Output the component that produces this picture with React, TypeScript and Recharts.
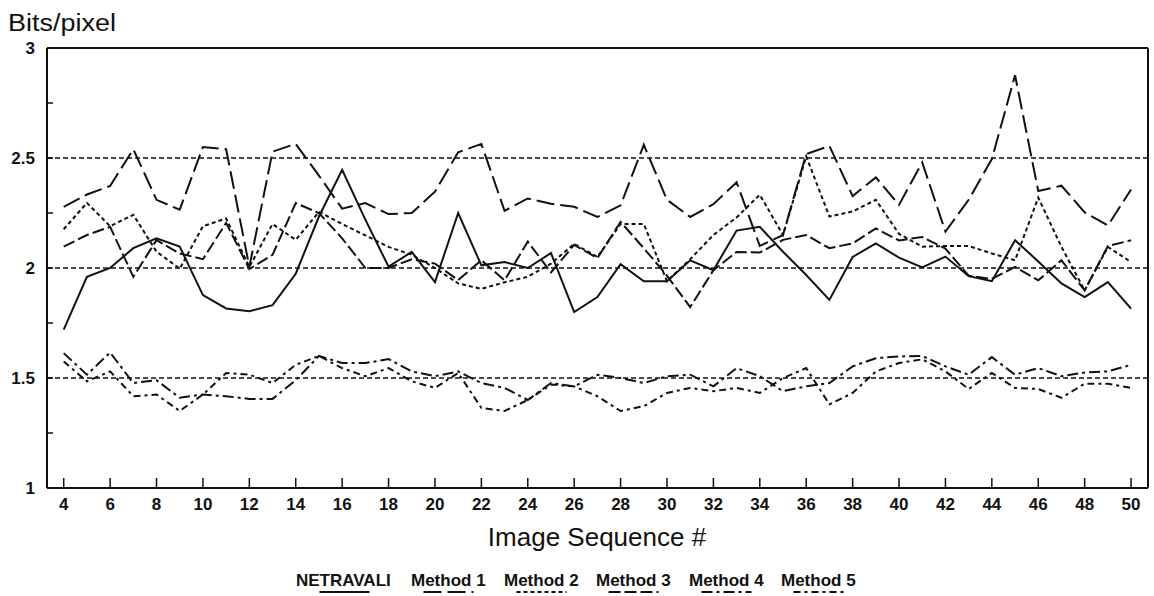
import { LineChart, Line, XAxis, YAxis, ReferenceLine } from "recharts";

// image sequence numbers
const SEQ = [
  4, 5, 6, 7, 8, 9, 10, 11, 12, 13, 14, 15, 16, 17, 18, 19, 20, 21, 22, 23, 24, 25, 26, 27,
  28, 29, 30, 31, 32, 33, 34, 35, 36, 37, 38, 39, 40, 41, 42, 43, 44, 45, 46, 47, 48, 49, 50,
];

// bits/pixel per method
const NETRAVALI = [
  1.72, 1.96, 2.0, 2.09, 2.135, 2.097, 1.877, 1.816, 1.804, 1.831, 1.974, 2.234, 2.446, 2.22,
  2.006, 2.073, 1.936, 2.25, 2.012, 2.027, 2.0, 2.068, 1.8, 1.868, 2.017, 1.94, 1.94, 2.035,
  1.99, 2.17, 2.187, 2.074, 1.968, 1.855, 2.05, 2.112, 2.047, 2.003, 2.052, 1.963, 1.94, 2.126,
  2.03, 1.93, 1.868, 1.936, 1.815,
];
const METHOD_1 = [
  2.278, 2.334, 2.373, 2.54, 2.31, 2.265, 2.55, 2.54, 2.005, 2.529, 2.564, 2.42, 2.27, 2.295,
  2.245, 2.25, 2.347, 2.526, 2.564, 2.26, 2.316, 2.292, 2.278, 2.232, 2.285, 2.56, 2.31, 2.232,
  2.29, 2.39, 2.1, 2.15, 2.518, 2.555, 2.327, 2.412, 2.287, 2.48, 2.165, 2.31, 2.495, 2.876,
  2.35, 2.374, 2.253, 2.193, 2.357,
];
const METHOD_2 = [
  2.176, 2.296, 2.19, 2.242, 2.074, 1.997, 2.19, 2.225, 2.005, 2.2, 2.128, 2.255, 2.2, 2.148,
  2.096, 2.06, 2.0, 1.93, 1.905, 1.935, 1.96, 2.02, 2.11, 2.05, 2.2, 2.2, 1.94, 2.04, 2.15,
  2.23, 2.333, 2.15, 2.507, 2.234, 2.257, 2.31, 2.155, 2.097, 2.1, 2.1, 2.066, 2.035, 2.32,
  2.096, 1.898, 2.096, 2.027,
];
const METHOD_3 = [
  2.097, 2.15, 2.187, 1.96, 2.127, 2.066, 2.04, 2.205, 1.995, 2.06, 2.295, 2.25, 2.135, 2.0,
  2.0, 2.04, 2.02, 1.945, 2.035, 1.944, 2.12, 1.98, 2.105, 2.045, 2.21, 2.09, 1.965, 1.822,
  1.99, 2.073, 2.07, 2.128, 2.15, 2.09, 2.112, 2.18, 2.125, 2.141, 2.088, 1.965, 1.95, 2.005,
  1.944, 2.035, 1.898, 2.1, 2.126,
];
const METHOD_4 = [
  1.613, 1.515, 1.616, 1.477, 1.49, 1.41, 1.425, 1.417, 1.405, 1.405, 1.49, 1.6, 1.568, 1.568,
  1.586, 1.53, 1.508, 1.53, 1.477, 1.455, 1.4, 1.477, 1.462, 1.515, 1.5, 1.477, 1.508, 1.515,
  1.462, 1.545, 1.508, 1.44, 1.462, 1.477, 1.553, 1.59, 1.598, 1.6, 1.553, 1.515, 1.595, 1.515,
  1.545, 1.508, 1.525, 1.53, 1.56,
];
const METHOD_5 = [
  1.575, 1.485, 1.53, 1.417, 1.425, 1.35, 1.425, 1.523, 1.515, 1.477, 1.56, 1.6, 1.545, 1.508,
  1.545, 1.485, 1.455, 1.523, 1.364, 1.35, 1.4, 1.47, 1.462, 1.417, 1.35, 1.372, 1.432, 1.455,
  1.44, 1.455, 1.432, 1.5, 1.545, 1.38, 1.432, 1.53, 1.568, 1.585, 1.53, 1.45, 1.523, 1.455,
  1.45, 1.41, 1.474, 1.474, 1.455,
];

const X_TICKS = [4, 6, 8, 10, 12, 14, 16, 18, 20, 22, 24, 26, 28, 30, 32, 34, 36, 38, 40, 42, 44, 46, 48, 50];
const Y_TICKS = [1, 1.25, 1.5, 1.75, 2, 2.25, 2.5, 2.75, 3];
const Y_LABELLED = [1, 1.5, 2, 2.5, 3];
const GRID_Y = [1.5, 2, 2.5];

const INK = "#111";
const FONT = "'Liberation Sans', Arial, Helvetica, sans-serif";

const SERIES = [
  { key: "netravali", name: "NETRAVALI", values: NETRAVALI, dash: undefined },
  { key: "m1", name: "Method 1", values: METHOD_1, dash: "18 6" },
  { key: "m2", name: "Method 2", values: METHOD_2, dash: "4 3" },
  { key: "m3", name: "Method 3", values: METHOD_3, dash: "12 4" },
  { key: "m4", name: "Method 4", values: METHOD_4, dash: "11 4 3 4" },
  { key: "m5", name: "Method 5", values: METHOD_5, dash: "7 4 3 4" },
];

const rows = SEQ.map((n, i) => {
  const r: Record<string, number> = { n };
  SERIES.forEach((s) => (r[s.key] = s.values[i]));
  return r;
});

// legend text left edges
const LEGEND_X = [296, 411, 504, 596, 689, 781];
const LEGEND_W = [97, 75, 75, 75, 75, 75];

function YTick({ x, y, payload }: any) {
  const v = payload.value;
  return (
    <g>
      <line x1={x} x2={x + 6} y1={y} y2={y} stroke={INK} strokeWidth={1.5} />
      {Y_LABELLED.includes(v) && (
        <text x={x - 12} y={y} dy="0.35em" textAnchor="end" fontFamily={FONT} fontSize={17} fontWeight="bold" fill={INK}>
          {v}
        </text>
      )}
    </g>
  );
}

function XTick({ x, y, payload }: any) {
  return (
    <g>
      <line x1={x} x2={x} y1={y} y2={y - 10} stroke={INK} strokeWidth={1.5} />
      <text x={x} y={y + 22} textAnchor="middle" fontFamily={FONT} fontSize={17} fontWeight="bold" fill={INK}>
        {payload.value}
      </text>
    </g>
  );
}

function XTitle() {
  return (
    <g>
      <text x={597} y={546} textAnchor="middle" fontFamily={FONT} fontSize={26} fill={INK}>
        Image Sequence #
      </text>
      {SERIES.map((s, i) => {
        const mid = LEGEND_X[i] + LEGEND_W[i] / 2;
        return (
          <g key={s.key}>
            <text x={LEGEND_X[i]} y={586} fontFamily={FONT} fontSize={17} fontWeight="bold" fill={INK}>
              {s.name}
            </text>
            <line x1={mid - 25} x2={mid + 25} y1={592} y2={592} stroke={INK} strokeWidth={2} strokeDasharray={s.dash} />
          </g>
        );
      })}
    </g>
  );
}

function YTitle() {
  return (
    <text x={8} y={31} fontFamily={FONT} fontSize={23} fill={INK} textLength={108} lengthAdjust="spacingAndGlyphs">
      Bits/pixel
    </text>
  );
}

export default function App() {
  return (
    <div style={{ position: "absolute", left: 0, top: 0, width: 1154, height: 596, background: "#fff" }}>
      <LineChart width={1154} height={596} data={rows} margin={{ top: 0, right: 0, bottom: 0, left: 0 }}>
        <XAxis
          dataKey="n"
          type="number"
          domain={[3.28, 50.73]}
          ticks={X_TICKS}
          interval={0}
          height={108}
          tickSize={0}
          tickMargin={0}
          tickLine={false}
          tick={<XTick />}
          axisLine={{ stroke: INK, strokeWidth: 2 }}
          label={{ content: XTitle }}
        />
        <XAxis
          xAxisId="top"
          orientation="top"
          type="number"
          domain={[3.28, 50.73]}
          height={48}
          tick={false}
          tickLine={false}
          axisLine={{ stroke: INK, strokeWidth: 2 }}
          label={{ content: YTitle }}
        />
        <YAxis
          type="number"
          domain={[1, 3]}
          ticks={Y_TICKS}
          interval={0}
          width={47}
          tickSize={0}
          tickMargin={0}
          tickLine={false}
          tick={<YTick />}
          axisLine={{ stroke: INK, strokeWidth: 2 }}
        />
        <YAxis
          yAxisId="right"
          orientation="right"
          type="number"
          domain={[1, 3]}
          width={6}
          tick={false}
          tickLine={false}
          axisLine={{ stroke: INK, strokeWidth: 2 }}
        />
        {GRID_Y.map((v) => (
          <ReferenceLine key={v} y={v} stroke={INK} strokeWidth={1.5} strokeDasharray="5 3" />
        ))}
        {SERIES.map((s) => (
          <Line
            key={s.key}
            type="linear"
            dataKey={s.key}
            name={s.name}
            stroke={INK}
            strokeWidth={2}
            strokeDasharray={s.dash}
            dot={false}
            activeDot={false}
            isAnimationActive={false}
          />
        ))}
      </LineChart>
    </div>
  );
}
